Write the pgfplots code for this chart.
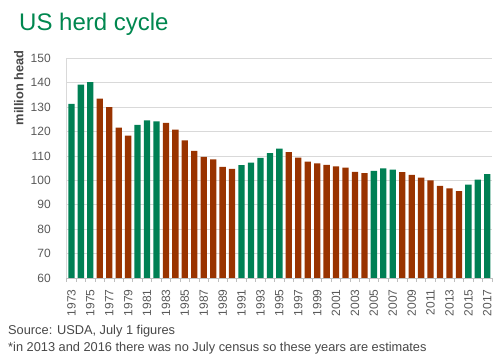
\documentclass[border=0pt]{standalone}
\usepackage{fontspec}
\setmainfont{Liberation Sans}
\usepackage{pgfplots}
\pgfplotsset{compat=1.18}
\definecolor{hgreen}{HTML}{008054}
\definecolor{horange}{HTML}{993300}
\definecolor{tgreen}{HTML}{00874F}
\definecolor{ticktxt}{HTML}{595959}
\definecolor{gridc}{HTML}{D9D9D9}
\definecolor{axc}{HTML}{BFBFBF}
\begin{document}
\begin{tikzpicture}
\path[use as bounding box] (0,0) rectangle (500pt,361pt);
\begin{axis}[
  at={(66.7pt,83pt)}, anchor=south west,
  scale only axis, width=425.3pt, height=219.7pt,
  ybar=0pt, bar width=6.3pt,
  xmin=1972.5, xmax=2017.5, ymin=60, ymax=150,
  ytick={60,70,...,150},
  xtick={1973,1975,...,2017},
  minor xtick={1972.5,1973.5,...,2017.5},
  /pgf/number format/assume math mode=true,
  /pgf/number format/1000 sep={},
  axis x line*=bottom, axis y line*=left,
  x axis line style={draw=axc, line width=0.8pt},
  y axis line style={draw=gridc, line width=0.8pt},
  ymajorgrids, major grid style={draw=gridc, line width=0.8pt},
  major x tick style={draw=none},
  major y tick style={draw=none},
  minor x tick style={draw=axc, line width=0.8pt},
  minor tick length=4pt,
  tick align=outside,
  tick label style={font=\fontsize{12}{12}\selectfont, text=ticktxt, inner sep=0pt},
  xticklabel style={rotate=90, anchor=east},
  xticklabel shift=7pt,
  yticklabel shift=11.5pt,
]
\addplot[fill=hgreen, draw=none, bar shift=0pt] coordinates {
(1973,131.3) (1974,139.2) (1975,140.2) (1980,122.7) (1981,124.6) (1982,124.2)
(1991,106.2) (1992,107.3) (1993,109.2) (1994,111.2) (1995,113.0)
(2005,103.9) (2006,104.9) (2007,104.4) (2015,98.2) (2016,100.3) (2017,102.6)};
\addplot[fill=horange, draw=none, bar shift=0pt] coordinates {
(1976,133.5) (1977,130.0) (1978,121.6) (1979,118.3)
(1983,123.5) (1984,120.8) (1985,116.4) (1986,112.1) (1987,109.6) (1988,108.6) (1989,105.5) (1990,104.7)
(1996,111.6) (1997,109.3) (1998,107.7) (1999,107.0) (2000,106.3) (2001,105.7) (2002,105.2) (2003,103.5) (2004,103.0)
(2008,103.4) (2009,102.2) (2010,101.1) (2011,100.0) (2012,97.7) (2013,96.7) (2014,95.6)};
\end{axis}
\node[anchor=base west, inner sep=0pt, text=tgreen, font=\fontsize{24}{24}\selectfont] at (19pt,330.3pt) {US herd cycle};
\node[rotate=90, anchor=base east, inner sep=0pt, text=ticktxt!80!black, font=\fontsize{12.8}{12.8}\selectfont\bfseries] at (23.3pt,310.5pt) {million head};
\node[anchor=base west, inner sep=0pt, text=ticktxt!80!black, font=\fontsize{12.8}{12.8}\selectfont] at (8pt,26pt) {Source: USDA, July 1 figures};
\node[anchor=base west, inner sep=0pt, text=ticktxt!80!black, font=\fontsize{12.8}{12.8}\selectfont] at (8pt,9.5pt) {*in 2013 and 2016 there was no July census so these years are estimates};
\end{tikzpicture}
\end{document}
